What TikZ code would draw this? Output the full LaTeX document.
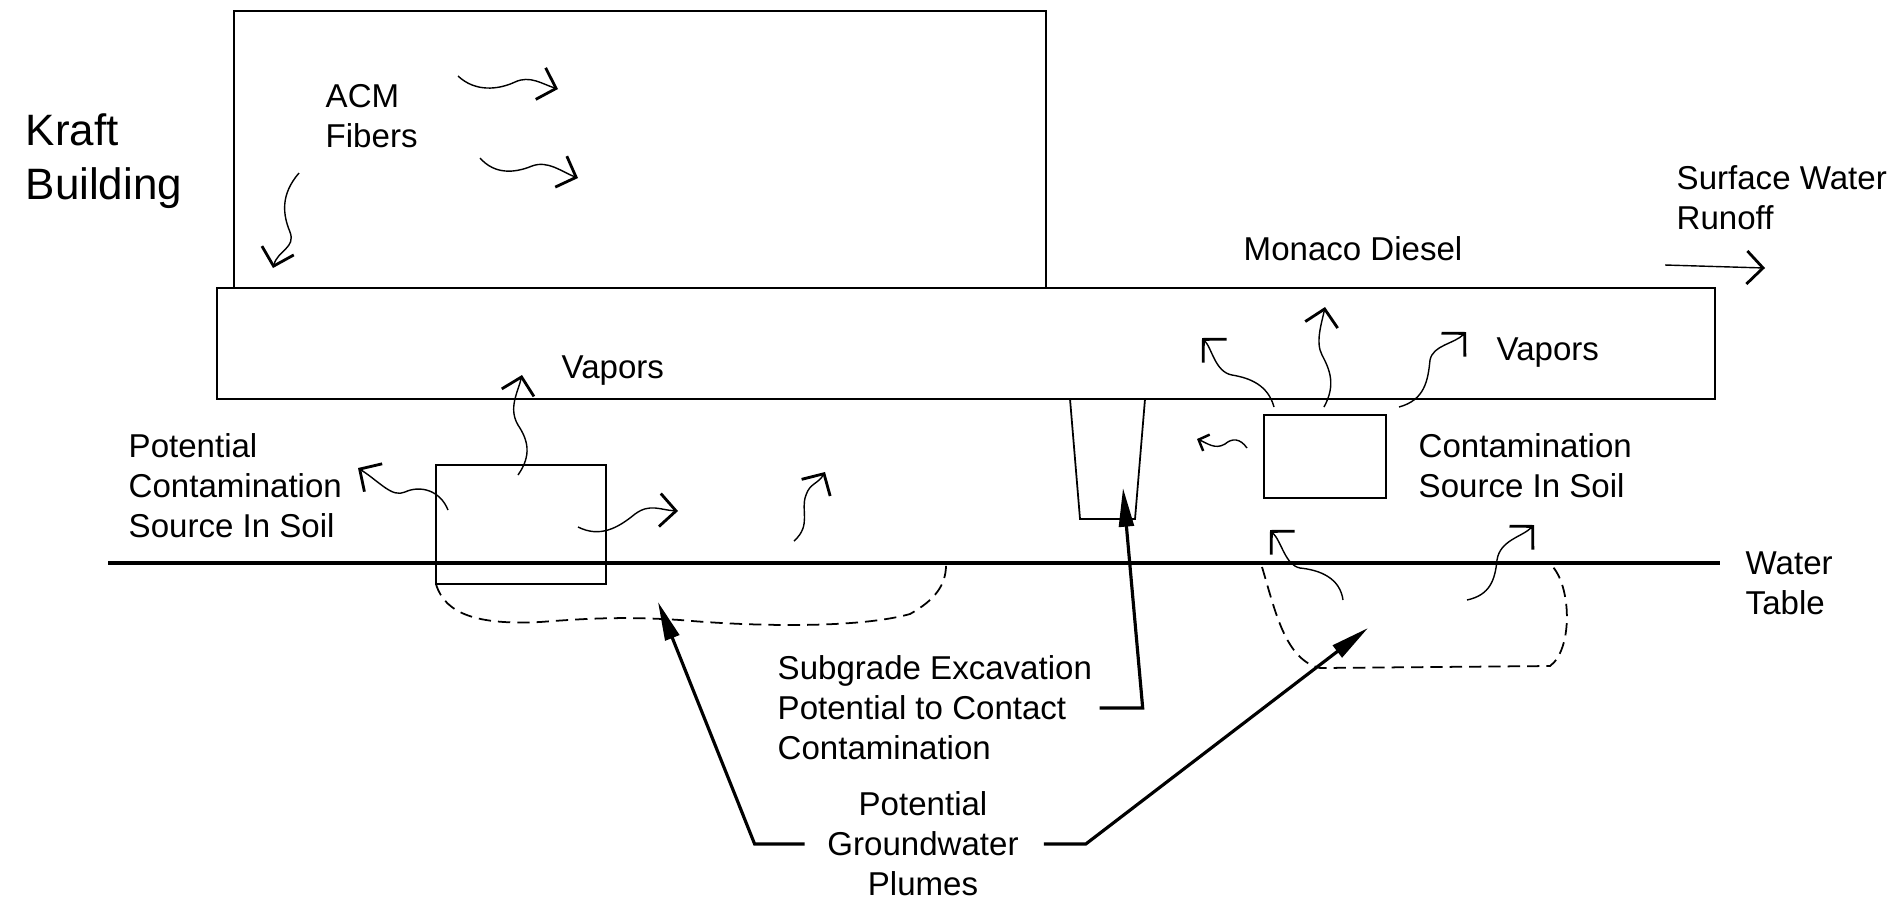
\documentclass[tikz,border=0pt]{standalone}
\usepackage{fontspec}
\setmainfont{Liberation Sans}
\usetikzlibrary{arrows.meta}

\begin{document}
\begin{tikzpicture}[
    x=0.01cm, y=-0.01cm,
    outline/.style={draw, line width=0.5pt},
    txt/.style={inner sep=0pt, anchor=north west, align=left, font=\fontsize{9.4}{11.4}\selectfont},
    bigtxt/.style={txt, font=\fontsize{12.5}{15.4}\selectfont},
    flow/.style={line width=0.4pt, -{Straight Barb[length=4.6pt, width=9.4pt, line width=0.8pt]}},
    smallflow/.style={line width=0.4pt, -{Straight Barb[length=2.4pt, width=5pt, line width=0.7pt]}},
    plume/.style={line width=0.5pt, dash pattern=on 3.5pt off 2pt},
    leader/.style={line width=0.9pt, -{Triangle[length=11pt, width=4.2pt]}},
    water/.style={line width=1.4pt}
]
\useasboundingbox (0,0) rectangle (1900,902);

% Building, slab, excavation
\draw[outline] (234,11) rectangle (1046,288);
\draw[outline] (217,288) rectangle (1715,399);
\draw[outline] (1070,399) -- (1080,519) -- (1135,519) -- (1145,399);

% Sources in soil and water table
\draw[outline] (436,465) rectangle (606,584);
\draw[outline] (1264,415) rectangle (1386,498);
\draw[water] (108,563) -- (1720,563);

% Plumes
\draw[plume] (436,584) .. controls (445,615) and (480,625) .. (540,622)
    .. controls (580,619) and (620,616) .. (680,620)
    .. controls (760,627) and (860,628) .. (910,614)
    .. controls (935,600) and (946,585) .. (946,565);
\draw[plume] (1262,567) .. controls (1275,610) and (1285,660) .. (1320,668)
    -- (1550,666) .. controls (1572,650) and (1572,590) .. (1553,567);

% Labels
\node[bigtxt] (kraft) at (25,113) {Kraft\\Building};
\node[txt] (acm) at (325,84) {ACM\\Fibers};
\node[txt] (monaco) at (1243,236) {Monaco Diesel};
\node[txt] (runoff) at (1676,165) {Surface Water\\Runoff};
\node[txt] (vaporsl) at (561,355) {Vapors};
\node[txt] (vaporsr) at (1496,337) {Vapors};
\node[txt] (srcl) at (128,433) {Potential\\Contamination\\Source In Soil};
\node[txt] (srcr) at (1418,433) {Contamination\\Source In Soil};
\node[txt] (wt) at (1745,551) {Water\\Table};
\node[txt] (subgrade) at (777,655) {Subgrade Excavation\\Potential to Contact\\Contamination};
\node[txt, anchor=north, align=center] (plumes) at (923,791) {Potential\\Groundwater\\Plumes};

% Fibers
\draw[flow] (458,76) .. controls (475,92) and (498,90) .. (515,82) .. controls (530,75) and (542,84) .. (558,89);
\draw[flow] (480,158) .. controls (495,175) and (515,173) .. (532,166) .. controls (548,160) and (562,172) .. (578,178);
\draw[flow] (299,173) .. controls (280,195) and (283,215) .. (290,232) .. controls (296,248) and (278,250) .. (273,268);

% Vapors and migration, left source
\draw[flow] (518,475) .. controls (532,455) and (528,440) .. (518,425) .. controls (508,408) and (518,392) .. (522,375);
\draw[flow] (448,510) .. controls (440,490) and (420,485) .. (405,492) .. controls (392,498) and (380,482) .. (358,468);
\draw[flow] (578,527) .. controls (600,538) and (618,528) .. (635,514) .. controls (650,503) and (660,510) .. (678,511);
\draw[flow] (794,541) .. controls (812,525) and (800,510) .. (806,495) .. controls (810,483) and (818,484) .. (825,472);

% Vapors and migration, right source
\draw[smallflow] (1247,448) .. controls (1240,438) and (1232,438) .. (1225,444) .. controls (1215,450) and (1207,443) .. (1197,439);
\draw[flow] (1274,407) .. controls (1268,385) and (1250,378) .. (1232,375) .. controls (1215,372) and (1212,348) .. (1202,338);
\draw[flow] (1324,407) .. controls (1336,385) and (1330,370) .. (1322,355) .. controls (1315,342) and (1322,322) .. (1325,307);
\draw[flow] (1399,407) .. controls (1425,400) and (1428,380) .. (1430,360) .. controls (1433,345) and (1454,344) .. (1466,332);
\draw[flow] (1343,600) .. controls (1340,578) and (1320,570) .. (1300,568) .. controls (1285,565) and (1282,542) .. (1270,530);
\draw[flow] (1467,600) .. controls (1490,595) and (1495,580) .. (1497,560) .. controls (1500,540) and (1522,537) .. (1534,525);

% Runoff
\coordinate (runfrom) at (1665,265);
\coordinate (runto) at (1765,268);
\draw[flow] (runfrom) -- (runto);

% Leaders
\coordinate (exctip) at (1123,488);
\coordinate (lplume) at (658,602);
\coordinate (rplume) at (1368,628);
\draw[leader] ([xshift=2pt]subgrade.east) -- ++(43,0) -- (exctip);
\draw[leader] ([xshift=-6.3pt]plumes.west) -- ++(-50,0) -- (lplume);
\draw[leader] ([xshift=7pt]plumes.east) -- ++(42,0) -- (rplume);
\end{tikzpicture}
\end{document}
